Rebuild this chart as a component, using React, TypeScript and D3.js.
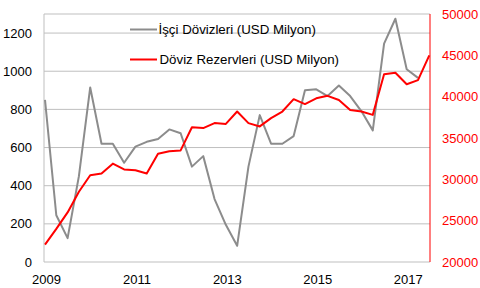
import React from "react";
import * as d3 from "d3";

const years = ["2009", "2011", "2013", "2015", "2017"];
const yearIndex = [0, 8, 16, 24, 32];

const isciDovizleri = [
  850, 245, 125, 450, 915, 620, 620, 520, 605, 630, 645, 695, 675, 500, 555, 330,
  195, 85, 500, 770, 620, 620, 660, 900, 905, 870, 925, 870, 790, 690, 1145, 1275,
  1010, 965,
];

const dovizRezervleri = [
  22100, 24000, 26000, 28500, 30500, 30700, 31900, 31200, 31100, 30700, 33100, 33400,
  33500, 36300, 36200, 36800, 36700, 38200, 36800, 36400, 37400, 38200, 39700, 39100,
  39800, 40100, 39600, 38400, 38200, 37800, 42700, 42900, 41500, 42000, 45000,
];

const leftTicks = [0, 200, 400, 600, 800, 1000, 1200];
const rightTicks = [20000, 25000, 30000, 35000, 40000, 45000, 50000];

const seriesNames = ["İşçi Dövizleri (USD Milyon)", "Döviz Rezervleri (USD Milyon)"];

export default function App() {
  const W = 480, H = 288;
  const left = 44, right = 430, top = 14, bottom = 262;
  const x = d3.scaleLinear().domain([0, 34]).range([45, 429.3]);
  const yL = d3.scaleLinear().domain([0, 1300]).range([bottom, top]);
  const yR = d3.scaleLinear().domain([20000, 50000]).range([bottom, top]);
  const lineL = d3.line<number>().x((_, i) => x(i)).y((d) => yL(d));
  const lineR = d3.line<number>().x((_, i) => x(i)).y((d) => yR(d));
  const font = "Liberation Sans, Arial, sans-serif";
  const grid = "#bfbfbf";
  const gray = "#8c8c8c";
  const red = "#ff0000";

  return (
    <svg width={W} height={H} style={{ position: "absolute", left: 0, top: 0 }} fontFamily={font}>
      <rect x={0} y={0} width={W} height={H} fill="#fff" />
      {leftTicks.slice(1).map((t) => (
        <line key={t} x1={left} x2={right} y1={yL(t)} y2={yL(t)} stroke={grid} strokeWidth={1} />
      ))}
      <line x1={left} x2={right} y1={top} y2={top} stroke={grid} strokeWidth={1} />
      <line x1={left} x2={right} y1={bottom} y2={bottom} stroke={grid} strokeWidth={1} />
      <line x1={left} x2={left} y1={top} y2={bottom} stroke={grid} strokeWidth={1} />
      <line x1={right} x2={right} y1={top} y2={bottom} stroke={red} strokeWidth={1} />
      {leftTicks.map((t) => (
        <text key={t} x={32} y={yL(t)} dy="0.35em" textAnchor="end" fontSize={13} fill="#000">
          {t}
        </text>
      ))}
      {rightTicks.map((t) => (
        <text key={t} x={442} y={yR(t)} dy="0.35em" textAnchor="start" fontSize={13} fill={red}>
          {t}
        </text>
      ))}
      {years.map((yr, k) => (
        <text key={yr} x={x(yearIndex[k]) + 1.5} y={284} textAnchor="middle" fontSize={13} fill="#000">
          {yr}
        </text>
      ))}
      <path d={lineL(isciDovizleri) || ""} fill="none" stroke={gray} strokeWidth={2} strokeLinejoin="round" />
      <path d={lineR(dovizRezervleri) || ""} fill="none" stroke={red} strokeWidth={2} strokeLinejoin="round" />
      <line x1={130} x2={157} y1={29.5} y2={29.5} stroke={gray} strokeWidth={2} />
      <text x={158.5} y={33.8} fontSize={13.3} fill="#000">{seriesNames[0]}</text>
      <line x1={130} x2={157} y1={59.5} y2={59.5} stroke={red} strokeWidth={2} />
      <text x={159.5} y={64} fontSize={13.3} fill="#000">{seriesNames[1]}</text>
    </svg>
  );
}
